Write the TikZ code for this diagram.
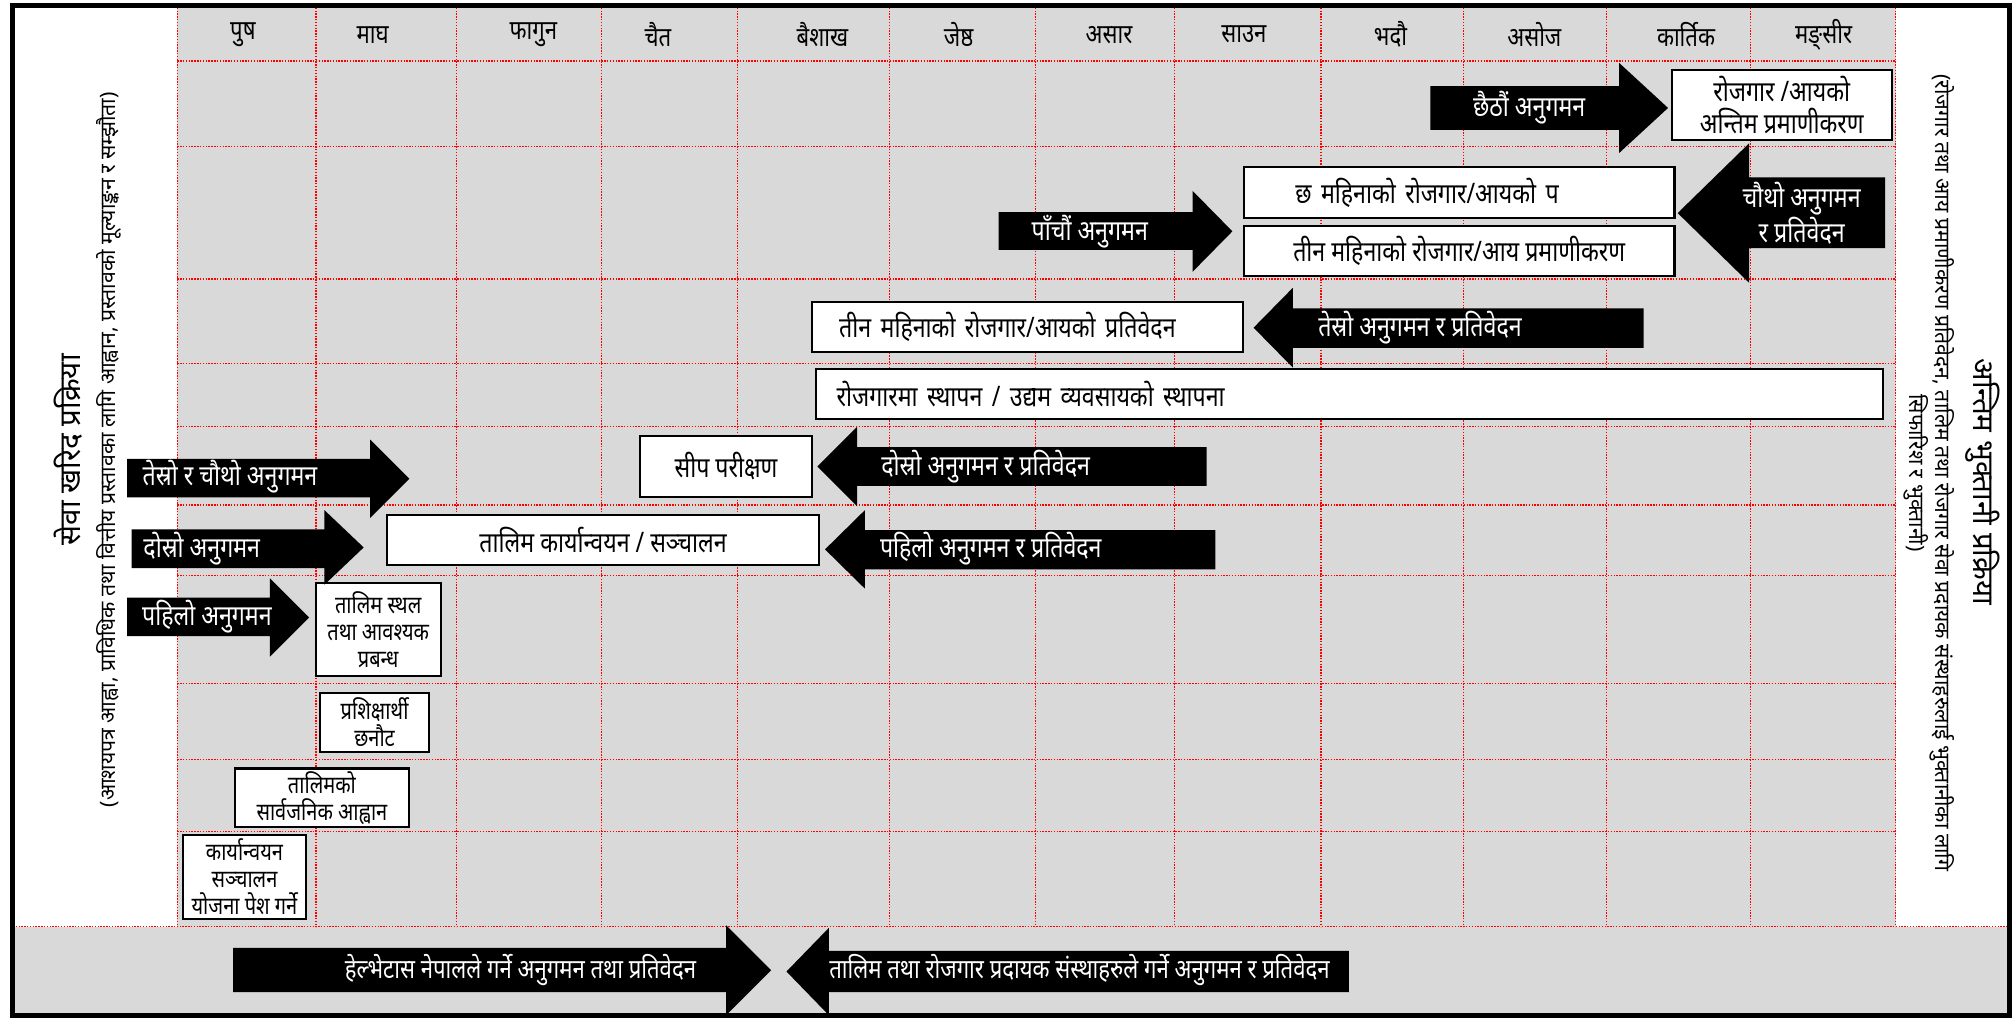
\documentclass[tikz,border=0pt]{standalone}
\usepackage{fontspec}
\newfontfamily\dev[Script=Devanagari,BoldFeatures={FakeBold=1.2}]{Noto Sans}
\newfontfamily\devn[Script=Devanagari,FakeStretch=0.82,BoldFeatures={FakeBold=2}]{Noto Sans}
\definecolor{bggray}{HTML}{D9D9D9}
\tikzset{
  gridline/.style={red, line width=1.1pt, dash pattern=on 1.1pt off 1.1pt},
  box/.style={draw=black, fill=white, line width=1.6pt, inner sep=0pt,
    font=\devn\bfseries\fontsize{22}{25}\selectfont, align=center},
  smallbox/.style={box, font=\devn\bfseries\fontsize{19}{21}\selectfont},
  arrowfill/.style={fill=black},
  arrowtext/.style={text=white, inner sep=0pt, align=center,
    font=\devn\bfseries\fontsize{22}{25}\selectfont},
  month/.style={inner sep=0pt, font=\devn\bfseries\fontsize{21}{24}\selectfont},
  sidetitle/.style={inner sep=0pt, font=\dev\bfseries\fontsize{23}{27}\selectfont},
  sidesub/.style={inner sep=0pt, align=center, font=\dev\fontsize{16.5}{19}\selectfont},
}
% right-pointing block arrow: body left, head base, tip, body top, body bottom, head top, head bottom
\newcommand\RBlock[7]{\fill[arrowfill] (#1,#4) -- (#2,#4) -- (#2,#6) -- (#3,{(#6+#7)/2}) -- (#2,#7) -- (#2,#5) -- (#1,#5) -- cycle;}
% left-pointing block arrow: tip, head base, body right, body top, body bottom, head top, head bottom
\newcommand\LBlock[7]{\fill[arrowfill] (#3,#4) -- (#2,#4) -- (#2,#6) -- (#1,{(#6+#7)/2}) -- (#2,#7) -- (#2,#5) -- (#3,#5) -- cycle;}
\begin{document}
\begin{tikzpicture}[x=1pt,y=-1pt]
\useasboundingbox (0,0) rectangle (1568,793);
\fill[white] (0,0) rectangle (1568,793);
% gray areas
\fill[bggray] (138,5) rectangle (1475,721);
\fill[bggray] (10,721) rectangle (1564,790);
% grid
\foreach \gy in {47.5,114,217,283,332,393,448,532,591,647}
  \draw[gridline] (138,\gy) -- (1475,\gy);
\draw[gridline] (10,721) -- (1564,721);
\foreach \gx in {138,246,355,468,574,692,806,914,1028,1139,1250,1362,1475}
  \draw[gridline] (\gx,6) -- (\gx,721);
% months
\foreach \mx/\mn/\mt in {189/m1/पुष, 290/m2/माघ, 415/m3/फागुन, 512/m4/चैत, 640/m5/बैशाख, 746/m6/जेष्ठ, 863/m7/असार, 968/m8/साउन, 1082/m9/भदौ, 1194/m10/असोज, 1312/m11/कार्तिक, 1419/m12/मङ्सीर}
  \node[month] (\mn) at (\mx,27) {\mt};

% boxes
\node[box, minimum width=171, minimum height=54.5] (b1) at (1386.5,81.75) {रोजगार /आयको\\अन्तिम प्रमाणीकरण};
\node[box, minimum width=335, minimum height=40, text width=255, align=left] (b2) at (1135.5,150) {छ महिनाको रोजगार/आयको प};
\node[box, minimum width=335, minimum height=39] (b3) at (1135.5,195.5) {तीन महिनाको रोजगार/आय प्रमाणीकरण};
\node[box, minimum width=335, minimum height=39, text width=293, align=left] (b4) at (799.5,254.5) {तीन महिनाको रोजगार/आयको प्रतिवेदन};
\node[box, minimum width=830, minimum height=39, text width=798, align=left] (b5) at (1050,306.5) {रोजगारमा स्थापन / उद्यम व्यवसायको स्थापना};
\node[box, minimum width=134, minimum height=48] (b6) at (565,363) {सीप परीक्षण};
\node[box, minimum width=335.5, minimum height=39] (b7) at (469.25,420.5) {तालिम कार्यान्वयन / सञ्चालन};
\node[smallbox, minimum width=97.4, minimum height=72.2] (b8) at (294.3,489.7) {तालिम स्थल\\तथा आवश्यक\\प्रबन्ध};
\node[smallbox, minimum width=85, minimum height=46] (b9) at (291.5,562) {प्रशिक्षार्थी\\छनौट};
\node[smallbox, minimum width=135, minimum height=45.5] (b10) at (250.5,620.75) {तालिमको\\सार्वजनिक आह्वान};
\node[smallbox, minimum width=95.5, minimum height=65] (b11) at (190.25,682.5) {कार्यान्वयन\\सञ्चालन\\योजना पेश गर्ने};

% right-pointing arrows
\RBlock{1113}{1260}{1298}{67}{101}{49}{119}
\node[arrowtext] (a1) at (1190,84) {छैठौं अनुगमन};
\RBlock{777}{928}{959}{165}{194.5}{148.5}{211.5}
\node[arrowtext] (a2) at (848,180) {पाँचौं अनुगमन};
\RBlock{99}{288}{318.5}{357}{387}{342}{403}
\node[arrowtext] (a3) at (179,371) {तेस्रो र चौथो अनुगमन};
\RBlock{102.5}{252.5}{283}{412}{442}{397}{455}
\node[arrowtext] (a4) at (157,427) {दोस्रो अनुगमन};
\RBlock{99}{210}{240.5}{465}{495}{450}{511}
\node[arrowtext] (a5) at (161,480) {पहिलो अनुगमन};
\RBlock{181.4}{565}{600}{737.5}{772}{720}{790}
\node[arrowtext, font=\devn\bfseries\fontsize{21}{24}\selectfont] (a6) at (405,755) {हेल्भेटास नेपालले गर्ने अनुगमन तथा प्रतिवेदन};

% left-pointing arrows
\LBlock{1305.5}{1361}{1467}{138}{193}{111.6}{220}
\node[arrowtext] (l1) at (1402,166) {चौथो अनुगमन\\र प्रतिवेदन};
\LBlock{975.5}{1006}{1279}{240}{270.6}{224}{286}
\node[arrowtext] (l2) at (1105,255) {तेस्रो अनुगमन र प्रतिवेदन};
\LBlock{636}{667}{939}{348}{378}{332}{394}
\node[arrowtext] (l3) at (767,363) {दोस्रो अनुगमन र प्रतिवेदन};
\LBlock{642}{673}{945.7}{412.5}{443}{397}{458}
\node[arrowtext] (l4) at (771,427) {पहिलो अनुगमन र प्रतिवेदन};
\LBlock{612}{645}{1049.6}{740}{772}{722}{790}
\node[arrowtext, font=\devn\bfseries\fontsize{21}{24}\selectfont] (l5) at (840,755) {तालिम तथा रोजगार प्रदायक संस्थाहरुले गर्ने अनुगमन र प्रतिवेदन};

% side texts
\node[sidetitle, rotate=90] (lt) at (53,350) {सेवा खरिद प्रक्रिया};
\node[sidesub, rotate=90] (ls) at (85,350) {(आशयपत्र आह्वा, प्राविधिक तथा वित्तीय प्रस्तावका लागि आह्वान, प्रस्तावको मूल्याङ्कन र सम्झौता)};
\node[sidetitle, rotate=-90] (rt) at (1543,375) {अन्तिम भुक्तानी प्रक्रिया};
\node[sidesub, rotate=-90] (rs) at (1501,368) {(रोजगार तथा आय प्रमाणीकरण प्रतिवेदन, तालिम तथा रोजगार सेवा प्रदायक संस्थाहरुलाई भुक्तानीका लागि\\सिफारिश र भुक्तानी)};

% frame
\draw[line width=4pt] (10,4) rectangle (1564,790);
\end{tikzpicture}
\end{document}
